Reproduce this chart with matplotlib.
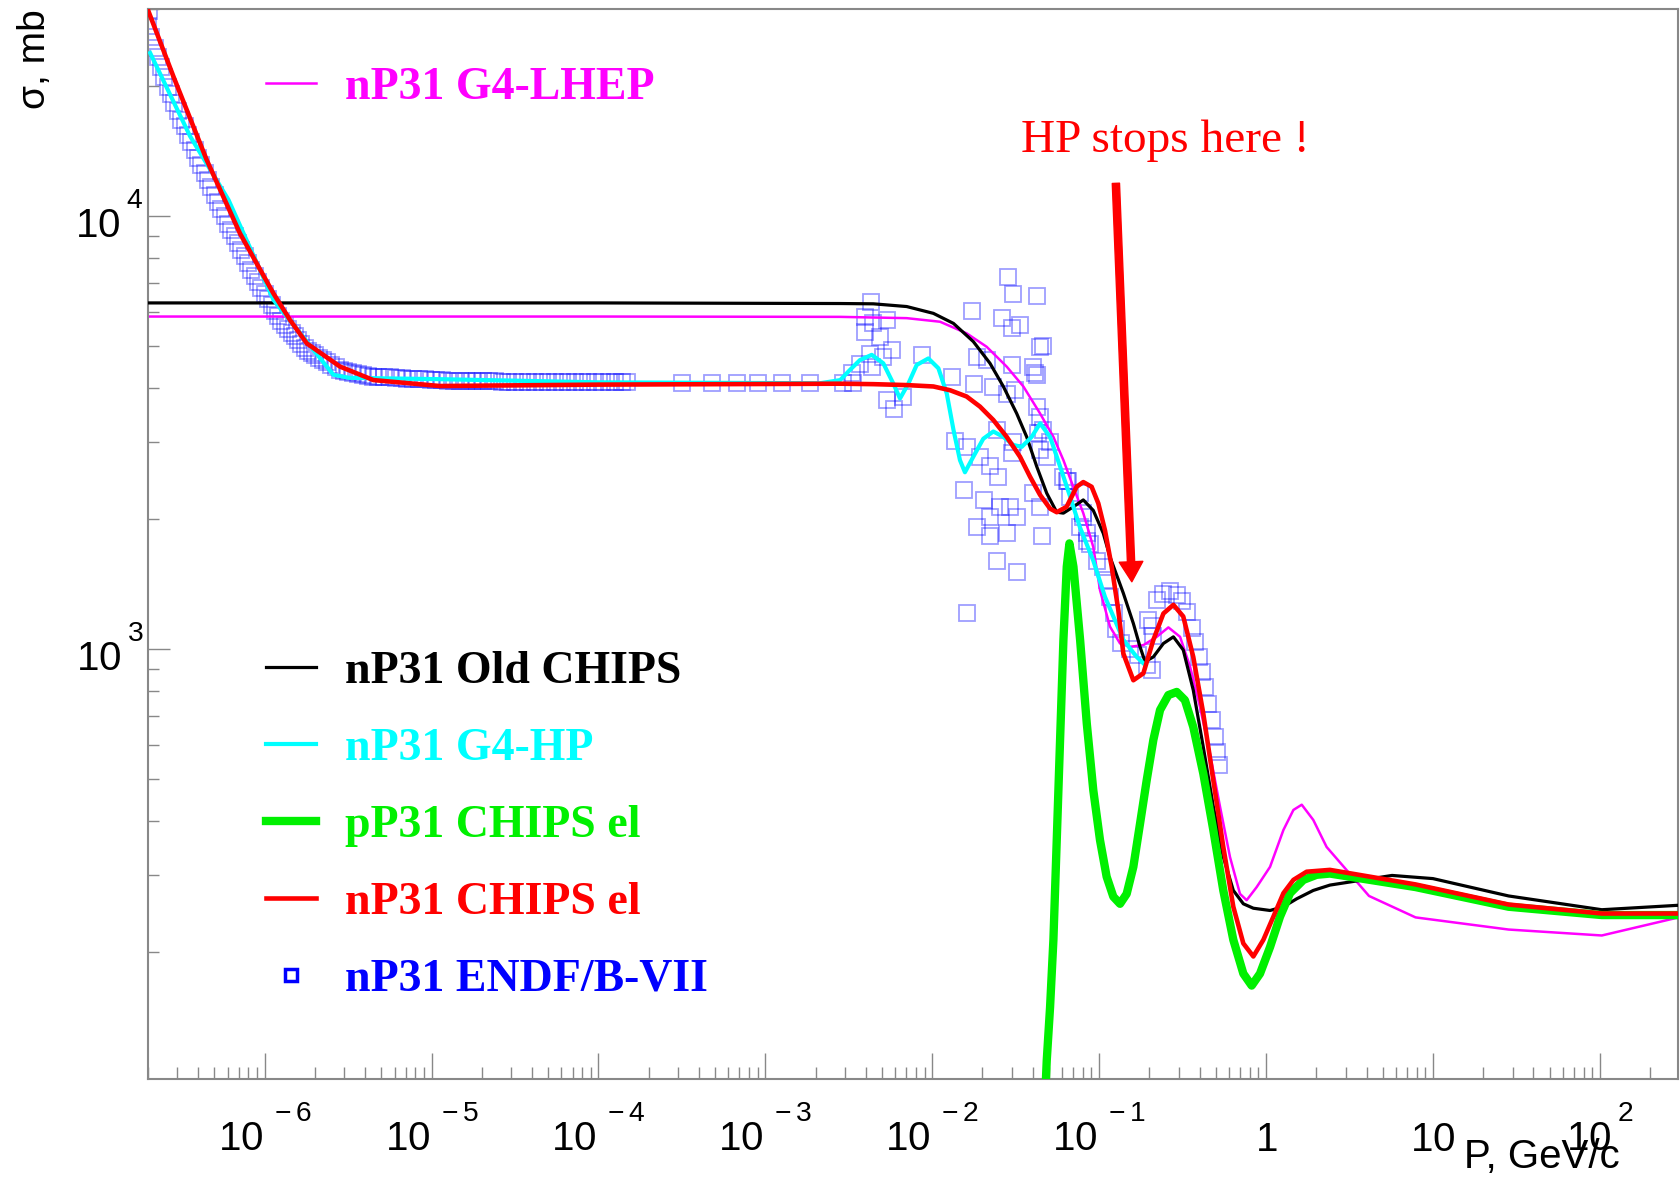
import matplotlib
matplotlib.use('Agg')
import matplotlib.pyplot as plt
import matplotlib._mathtext as mathtext_internals
from matplotlib.lines import Line2D

plt.rcParams['font.family'] = ['Liberation Sans', 'DejaVu Sans']
plt.rcParams['mathtext.fontset'] = 'custom'
plt.rcParams['mathtext.rm'] = 'Liberation Sans'
plt.rcParams['mathtext.it'] = 'Liberation Sans:italic'
plt.rcParams['mathtext.bf'] = 'Liberation Sans:bold'
# ROOT puts exponents high above the "10"
mathtext_internals.FontConstantsBase.sup1 = 1.3

# momentum in GeV/c, cross sections in mb
old_chips_p = [2.0e-7, 1.0e-4, 2.81e-3, 4.44e-3, 7.03e-3, 0.01016, 0.0134, 0.01762, 0.02218,
               0.02667, 0.03206, 0.03681, 0.04227, 0.04853, 0.05572, 0.06109, 0.06998, 0.08035,
               0.09226, 0.1059, 0.1161, 0.1396, 0.1603, 0.1758, 0.1884, 0.2113, 0.2427, 0.2786,
               0.3192, 0.3664, 0.4207, 0.4831, 0.5546, 0.6368, 0.7311, 0.8395, 1.057, 1.271,
               1.528, 1.919, 2.415, 5.69, 10.0, 28.4, 102.8, 296.5]
old_chips_sig = [6300, 6300, 6280, 6270, 6180, 5960, 5650, 5130, 4570,
                 4040, 3500, 3090, 2640, 2290, 2070, 2060, 2130, 2210,
                 2090, 1850, 1633, 1346, 1146, 1012, 935, 959, 1030, 1067,
                 995, 804, 594, 433, 331, 277, 258, 252, 249, 254,
                 265, 277, 285, 300, 295, 269, 250, 256]

lhep_p = [2.0e-7, 1.0e-4, 2.81e-3, 7.03e-3, 0.01114, 0.01607, 0.02118, 0.02793, 0.03516,
          0.04426, 0.05321, 0.06109, 0.06998, 0.08035, 0.09226, 0.1012, 0.1161, 0.1334,
          0.1531, 0.1841, 0.2213, 0.26, 0.3055, 0.3508, 0.4018, 0.4613, 0.5297, 0.6081,
          0.6982, 0.7656, 0.879, 1.057, 1.271, 1.459, 1.637, 1.919, 2.307, 4.14, 7.87,
          28.4, 102.8, 296.5]
lhep_sig = [5860, 5860, 5850, 5810, 5700, 5360, 4990, 4490, 4040,
            3500, 3090, 2730, 2370, 2060, 1720, 1368, 1127, 1030,
            1012, 1021, 1067, 1122, 1067, 910, 736, 574, 433, 331,
            272, 263, 282, 314, 382, 425, 437, 403, 349, 269, 240,
            225, 218, 240]

hp_p = [2.06e-7, 3.57e-7, 6.07e-7, 1.13e-6, 2.58e-6, 3.2e-6, 1.12e-5, 1.0e-4, 2.13e-3,
        2.81e-3, 3.21e-3, 3.69e-3, 4.34e-3, 5.09e-3, 5.85e-3, 6.41e-3, 7.19e-3, 8.07e-3,
        9.48e-3, 0.01089, 0.01222, 0.0134, 0.01466, 0.0157, 0.01762, 0.02023, 0.02323,
        0.02667, 0.03062, 0.03436, 0.03945, 0.04426, 0.05082, 0.05834, 0.06699, 0.07674,
        0.09226, 0.1084, 0.1396, 0.1679, 0.1841]
hp_sig = [23800, 15300, 10900, 6400, 4300, 4230, 4200, 4130, 4110,
          4180, 4410, 4650, 4780, 4570, 4100, 3790, 4100, 4530,
          4690, 4450, 3890, 3210, 2730, 2560, 2780, 3060, 3180,
          3090, 2960, 2930, 3090, 3320, 3090, 2640, 2250, 1910,
          1600, 1320, 1050, 959, 927]

p_chips_p = [0.0473, 0.04853, 0.05082, 0.05321, 0.05572, 0.05834, 0.06109, 0.06397, 0.06637,
             0.07015, 0.07691, 0.08433, 0.09226, 0.1012, 0.1109, 0.1216, 0.1334, 0.1462,
             0.1603, 0.1758, 0.1928, 0.2113, 0.2317, 0.26, 0.2917, 0.3266, 0.3664, 0.4207,
             0.4831, 0.5546, 0.6368, 0.7311, 0.8204, 0.9204, 1.057, 1.213, 1.393, 1.675,
             2.009, 2.415, 7.87, 28.4, 102.8, 296.5]
p_chips_sig = [89, 112, 149, 213, 362, 617, 1050, 1549, 1754,
               1549, 1050, 673, 472, 362, 298, 268, 258, 272,
               314, 395, 498, 617, 723, 783, 796, 762, 661, 516,
               382, 277, 213, 178, 167, 178, 205, 241, 273, 293,
               301, 303, 282, 254, 243, 243]

n_chips_p = [2.0e-7, 2.84e-7, 4.5e-7, 7.11e-7, 1.13e-6, 1.42e-6, 1.79e-6, 2.83e-6, 4.48e-6,
             1.12e-5, 1.0e-4, 2.81e-3, 4.44e-3, 7.03e-3, 0.01016, 0.01279, 0.01607, 0.01932,
             0.02323, 0.02793, 0.03357, 0.03855, 0.04426, 0.05082, 0.05572, 0.06383, 0.07328,
             0.08035, 0.09016, 0.09886, 0.1084, 0.1189, 0.1303, 0.1396, 0.1603, 0.1841,
             0.2113, 0.2427, 0.2786, 0.3192, 0.3664, 0.4207, 0.4831, 0.5546, 0.6368, 0.7311,
             0.8395, 0.9638, 1.107, 1.271, 1.459, 1.75, 2.415, 7.87, 28.4, 102.8, 296.5]
n_chips_sig = [29900, 21000, 13460, 9120, 6620, 5750, 5080, 4490, 4180,
               4050, 4080, 4100, 4090, 4070, 4040, 3960, 3830, 3630,
               3380, 3090, 2780, 2500, 2270, 2110, 2070, 2130, 2370,
               2430, 2370, 2170, 1880, 1550, 1230, 977, 847, 879,
               1050, 1208, 1265, 1189, 959, 710, 498, 349, 254, 209,
               195, 213, 241, 273, 293, 306, 309, 286, 257, 245, 245]

# ENDF/B-VII points
endf_band_p = [2.02e-7, 2.0e-7, 2.09e-7, 2.19e-7, 2.29e-7, 2.40e-7, 2.51e-7, 2.63e-7, 2.75e-7,
               2.88e-7, 3.02e-7, 3.16e-7, 3.31e-7, 3.47e-7, 3.63e-7, 3.80e-7, 3.98e-7, 4.17e-7,
               4.37e-7, 4.57e-7, 4.79e-7, 5.01e-7, 5.25e-7, 5.50e-7, 5.75e-7, 6.03e-7, 6.31e-7,
               6.61e-7, 6.92e-7, 7.24e-7, 7.59e-7, 7.94e-7, 8.32e-7, 8.71e-7, 9.12e-7, 9.55e-7,
               1.0e-6, 1.05e-6, 1.10e-6, 1.15e-6, 1.20e-6, 1.26e-6, 1.32e-6, 1.38e-6, 1.45e-6,
               1.51e-6, 1.58e-6, 1.66e-6, 1.74e-6, 1.82e-6, 1.91e-6, 2.0e-6, 2.11e-6, 2.24e-6,
               2.37e-6, 2.51e-6, 2.66e-6, 2.82e-6, 2.99e-6, 3.16e-6, 3.39e-6, 3.63e-6, 3.89e-6,
               4.17e-6, 4.47e-6, 4.79e-6, 5.19e-6, 5.62e-6, 6.10e-6, 6.61e-6, 7.16e-6, 7.76e-6,
               8.41e-6, 9.12e-6, 9.89e-6, 1.07e-5, 1.16e-5, 1.26e-5, 1.36e-5, 1.48e-5, 1.60e-5,
               1.74e-5, 1.88e-5, 2.04e-5, 2.21e-5, 2.40e-5, 2.63e-5, 2.88e-5, 3.16e-5, 3.47e-5,
               3.80e-5, 4.17e-5, 4.57e-5, 5.01e-5, 5.50e-5, 6.03e-5, 6.61e-5, 7.24e-5, 7.94e-5,
               8.71e-5, 9.55e-5, 1.05e-4, 1.15e-4, 1.26e-4, 1.38e-4, 1.48e-4]
endf_band_sig = [29800, 27400, 25900, 24500, 23300, 22100, 21000, 19900, 19100,
                 18200, 17500, 16700, 16100, 15400, 14800, 14200, 13600, 13100,
                 12600, 12100, 11700, 11200, 10800, 10400, 10000, 9600, 9290,
                 8970, 8660, 8360, 8070, 7800, 7520, 7270, 7040, 6820,
                 6620, 6430, 6240, 6050, 5880, 5710, 5600, 5480, 5380,
                 5270, 5160, 5060, 4970, 4870, 4830, 4770, 4710, 4650,
                 4590, 4530, 4470, 4410, 4390, 4370, 4340, 4320, 4290,
                 4270, 4260, 4250, 4240, 4240, 4230, 4220, 4210, 4210,
                 4200, 4200, 4190, 4180, 4175, 4170, 4165, 4160, 4160,
                 4160, 4155, 4150, 4150, 4150, 4145, 4140, 4140, 4140,
                 4140, 4140, 4140, 4130, 4130, 4130, 4130, 4130, 4130,
                 4130, 4130, 4130, 4130, 4130, 4130, 4130]
endf_flat_p = [3.15e-4, 4.77e-4, 6.75e-4, 9.08e-4, 1.25e-3, 1.85e-3, 2.93e-3, 3.37e-3]
endf_flat_sig = [4120, 4120, 4120, 4120, 4120, 4120, 4120, 4120]
endf_cluster_p = [0.0286, 0.0303, 0.0423, 0.0173, 0.0261, 0.0336, 0.0299, 0.0463, 0.00428,
                  0.00396, 0.00444, 0.00534, 0.00396, 0.00487, 0.00573, 0.00425, 0.00370,
                  0.00435, 0.00510, 0.00865, 0.00330, 0.00534, 0.00586, 0.00672, 0.0185,
                  0.0212, 0.0299, 0.0404, 0.0423, 0.0131, 0.0177, 0.0232, 0.0279, 0.0313,
                  0.0423, 0.0443, 0.0463, 0.0508, 0.0443, 0.0485, 0.0137, 0.0161, 0.0194,
                  0.0222, 0.0249, 0.0154, 0.0203, 0.0255, 0.0292, 0.0321, 0.0185, 0.0222,
                  0.0279, 0.0243, 0.0321, 0.0453, 0.0161, 0.0404, 0.0443, 0.0640, 0.0670,
                  0.0805, 0.0769, 0.0843, 0.0243, 0.0299, 0.0222, 0.0306, 0.0443, 0.0413,
                  0.0433, 0.0611, 0.0655, 0.0769, 0.0805, 0.0842, 0.0881, 0.0966]
endf_cluster_sig = [7240, 6620, 6530, 6040, 5800, 5600, 5500, 5000, 6340,
                    5850, 5650, 5750, 5400, 5260, 4900, 4810, 4560,
                    4490, 4730, 4770, 4330, 3760, 3590, 3820, 4730,
                    4650, 4530, 4490, 4290, 4250, 4100, 4030, 3890, 3960,
                    3620, 3440, 3200, 3010, 2880, 2780, 3030, 2930, 2780,
                    2640, 2500, 2330, 2210, 2130, 2130, 2020, 1910, 1820,
                    1850, 1600, 1510, 1820, 1210, 2290, 2130, 2450, 2250,
                    2060, 1910, 1780, 3200, 2830, 2020, 3010, 4990, 4330,
                    3150, 2500, 2450, 2290, 2020, 1850, 1750, 1600]
endf_high_p = [0.106, 0.111, 0.116, 0.122, 0.127, 0.136, 0.153, 0.172, 0.193, 0.207,
               0.197, 0.207, 0.211, 0.221, 0.243, 0.266, 0.292, 0.313, 0.335, 0.359,
               0.376, 0.394, 0.411, 0.431, 0.451, 0.472, 0.494, 0.506, 0.52]
endf_high_sig = [1550, 1440, 1320, 1210, 1110, 1030, 1000, 968, 918, 894,
                 1170, 1130, 1070, 1300, 1340, 1360, 1330, 1290, 1220, 1120,
                 1040, 960, 887, 818, 748, 685, 627, 579, 540]

x_ticks = [1e-6, 1e-5, 1e-4, 1e-3, 1e-2, 1e-1, 1, 10, 100]
x_tick_labels = ['$10^{\\;-6}$', '$10^{\\;-5}$', '$10^{\\;-4}$', '$10^{\\;-3}$', '$10^{\\;-2}$',
                 '$10^{\\;-1}$', '$1$', '$10$', '$10^{\\;2}$']
y_ticks = [1e3, 1e4]
y_tick_labels = ['$10^{\\;3}$', '$10^{\\;4}$']

fig = plt.figure(figsize=(16.8, 11.78), dpi=100)
ax = fig.add_axes([0.0881, 0.0840, 0.9107, 0.9083])
ax.set_xscale('log')
ax.set_yscale('log')

endf_p = endf_band_p + endf_flat_p + endf_cluster_p + endf_high_p
endf_sig = endf_band_sig + endf_flat_sig + endf_cluster_sig + endf_high_sig
ax.plot(endf_p, endf_sig, ls='none', marker='s', ms=11.5, mfc='none',
        mec='blue', mew=1.3, alpha=0.38, zorder=1)

h_lhep, = ax.plot(lhep_p, lhep_sig, color='#ff00ff', lw=1.8, zorder=2)
h_old, = ax.plot(old_chips_p, old_chips_sig, color='black', lw=2.3, zorder=3)
h_hp, = ax.plot(hp_p, hp_sig, color='#00ffff', lw=3.0, zorder=4)
h_p, = ax.plot(p_chips_p, p_chips_sig, color='#00f000', lw=6.0, zorder=5)
h_n, = ax.plot(n_chips_p, n_chips_sig, color='red', lw=3.3, zorder=6)

ax.set_xlim(2.0e-7, 294)
ax.set_ylim(101.6, 30060)

# annotation
ax.text(0.248, 14080, 'HP stops here !', color='red', fontsize=34,
        family='Liberation Serif', ha='center', va='baseline')
ax.annotate('', xy=(0.157, 1430), xytext=(0.126, 11900),
            arrowprops=dict(arrowstyle='simple,head_length=0.72,head_width=0.85,tail_width=0.26',
                            color='red', mutation_scale=20, shrinkA=0, shrinkB=0), zorder=7)

# axes styling
for sp in ax.spines.values():
    sp.set_color('#888888')
    sp.set_linewidth(1.5)
ax.set_xticks(x_ticks)
ax.set_xticklabels(x_tick_labels)
ax.set_yticks(y_ticks)
ax.set_yticklabels(y_tick_labels)
ax.tick_params(axis='x', which='major', direction='in', length=18.5, width=1, color='#888888',
               labelsize=29, pad=52)
ax.tick_params(axis='x', which='minor', direction='in', length=8.6, width=1, color='#888888')
ax.tick_params(axis='y', which='major', direction='in', length=16, width=1, color='#888888',
               labelsize=29, pad=3)
ax.tick_params(axis='y', which='minor', direction='in', length=8, width=1, color='#888888')
ax.xaxis.set_minor_formatter(plt.NullFormatter())
ax.yaxis.set_minor_formatter(plt.NullFormatter())
for lab in ax.get_xticklabels():
    lab.set_va('baseline')

ax.set_ylabel('σ, mb', fontsize=28, rotation=90, ha='right', va='center')
ax.yaxis.set_label_coords(-0.074, 1.0)
ax.set_xlabel('P, GeV/c', fontsize=29, ha='right', va='top')
ax.xaxis.set_label_coords(0.962, -0.055)

# legends
leg_font = dict(family='Liberation Serif', weight='bold', size=33)
leg1 = ax.legend([h_lhep], ['nP31 G4-LHEP'], loc='center left', bbox_to_anchor=(0.077, 0.9266),
                 frameon=False, prop=leg_font, labelcolor=['#ff00ff'], handlelength=1.1,
                 handletextpad=0.62, borderpad=0, borderaxespad=0)
ax.add_artist(leg1)
endf_proxy = Line2D([], [], ls='none', marker='s', ms=9, mfc='none', mec='blue', mew=2.5)
ax.legend([h_old, h_hp, h_p, h_n, endf_proxy],
          ['nP31 Old CHIPS', 'nP31 G4-HP', 'pP31 CHIPS el', 'nP31 CHIPS el', 'nP31 ENDF/B-VII'],
          loc='upper left', bbox_to_anchor=(0.077, 0.400), frameon=False, prop=leg_font,
          labelcolor=['black', '#00ffff', '#00f000', 'red', 'blue'], handlelength=1.1,
          handletextpad=0.62, labelspacing=0.76, borderpad=0, borderaxespad=0)

fig.savefig('out.png', dpi=100)
